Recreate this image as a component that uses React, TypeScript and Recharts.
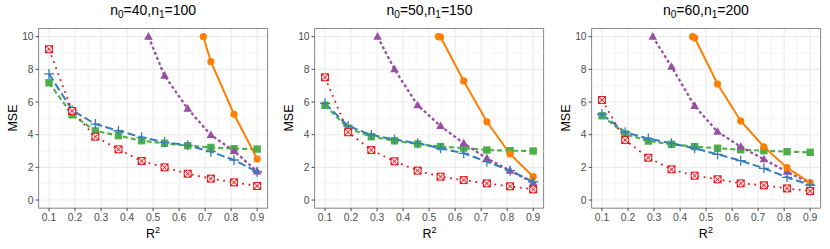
import React from "react";
import { LineChart, Line, XAxis, YAxis, CartesianGrid, ReferenceArea, ReferenceLine } from "recharts";

// R^2 grid shared by every panel (10 evenly spaced points)
const R2 = [0.1, 0.189, 0.278, 0.367, 0.456, 0.544, 0.633, 0.722, 0.811, 0.9];
const X_TICKS = [0.1, 0.2, 0.3, 0.4, 0.5, 0.6, 0.7, 0.8, 0.9];
const X_MINOR = [0.15, 0.25, 0.35, 0.45, 0.55, 0.65, 0.75, 0.85];
const Y_TICKS = [0, 2, 4, 6, 8, 10];
const Y_MINOR = [1, 3, 5, 7, 9];

const N0 = ["40", "50", "60"];
const N1 = ["100", "150", "200"];

// panel 1: n0=40, n1=100
const p1Red = [9.23, 5.45, 3.88, 3.1, 2.39, 2.0, 1.61, 1.31, 1.08, 0.86];
const p1Blue = [7.72, 5.5, 4.65, 4.24, 3.84, 3.53, 3.35, 2.96, 2.45, 1.73];
const p1Green = [7.18, 5.22, 4.23, 3.94, 3.63, 3.47, 3.33, 3.22, 3.14, 3.12];
const p1PurpleX = [0.482, 0.544, 0.633, 0.722, 0.811, 0.9];
const p1Purple = [10, 7.61, 5.59, 3.98, 3.0, 1.75];
const p1OrangeX = [0.693, 0.722, 0.811, 0.9];
const p1Orange = [10, 8.47, 5.25, 2.51];

// panel 2: n0=50, n1=150
const p2Red = [7.51, 4.15, 3.06, 2.37, 1.8, 1.43, 1.22, 1.02, 0.84, 0.65];
const p2Blue = [5.92, 4.53, 3.98, 3.71, 3.47, 3.17, 2.86, 2.35, 1.8, 1.12];
const p2Green = [5.8, 4.39, 3.88, 3.63, 3.43, 3.27, 3.18, 3.06, 3.02, 3.0];
const p2PurpleX = [0.302, 0.367, 0.456, 0.544, 0.633, 0.722, 0.811, 0.9];
const p2Purple = [10, 8.0, 5.8, 4.53, 3.47, 2.55, 1.8, 1.06];
const p2OrangeX = [0.536, 0.544, 0.633, 0.722, 0.811, 0.9];
const p2Orange = [10, 9.98, 7.29, 4.79, 2.82, 1.43];

// panel 3: n0=60, n1=200
const p3Red = [6.12, 3.67, 2.59, 1.88, 1.49, 1.27, 1.02, 0.9, 0.71, 0.55];
const p3Blue = [5.25, 4.15, 3.76, 3.47, 3.17, 2.8, 2.41, 1.94, 1.39, 0.92];
const p3Green = [5.16, 4.04, 3.61, 3.41, 3.27, 3.17, 3.08, 3.02, 2.96, 2.92];
const p3PurpleX = [0.295, 0.367, 0.456, 0.544, 0.633, 0.722, 0.811, 0.9];
const p3Purple = [10, 8.16, 5.76, 4.18, 3.26, 2.49, 1.73, 1.02];
const p3OrangeX = [0.448, 0.456, 0.544, 0.633, 0.722, 0.811, 0.9];
const p3Orange = [10, 9.93, 7.1, 4.84, 3.26, 1.98, 1.06];

const RED = "#E41A1C";
const BLUE = "#377EB8";
const GREEN = "#4DAF4A";
const PURPLE = "#984EA3";
const ORANGE = "#FF7F00";

const FONT = "'Liberation Sans', Arial, Helvetica, sans-serif";

const zip = (xs: number[], ys: number[]) => xs.map((x, i) => ({ x, y: ys[i] }));

const PANELS = [
  { red: p1Red, blue: p1Blue, green: p1Green, px: p1PurpleX, py: p1Purple, ox: p1OrangeX, oy: p1Orange },
  { red: p2Red, blue: p2Blue, green: p2Green, px: p2PurpleX, py: p2Purple, ox: p2OrangeX, oy: p2Orange },
  { red: p3Red, blue: p3Blue, green: p3Green, px: p3PurpleX, py: p3Purple, ox: p3OrangeX, oy: p3Orange },
];

// ggplot-ish point shapes
const redMark = (p: any) => {
  const { cx, cy, index } = p;
  if (cx == null || cy == null) return <g key={index} />;
  return (
    <g key={index}>
      <rect x={cx - 4} y={cy - 4} width={8} height={8} fill={RED} />
      <circle cx={cx} cy={cy} r={2.7} fill="#f6c9c9" stroke="#fff" strokeWidth={0.9} />
      <path d={`M${cx - 1.8} ${cy - 1.8}L${cx + 1.8} ${cy + 1.8}M${cx - 1.8} ${cy + 1.8}L${cx + 1.8} ${cy - 1.8}`} stroke={RED} strokeWidth={0.9} />
    </g>
  );
};
const plusMark = (p: any) => {
  const { cx, cy, index } = p;
  if (cx == null || cy == null) return <g key={index} />;
  return (
    <path key={index} d={`M${cx - 5} ${cy}H${cx + 5}M${cx} ${cy - 5}V${cy + 5}`} stroke={BLUE} strokeWidth={1.3} fill="none" />
  );
};
const squareMark = (p: any) => {
  const { cx, cy, index } = p;
  if (cx == null || cy == null) return <g key={index} />;
  return <rect key={index} x={cx - 3.7} y={cy - 3.7} width={7.4} height={7.4} fill={GREEN} />;
};
const triMark = (p: any) => {
  const { cx, cy, index } = p;
  if (cx == null || cy == null) return <g key={index} />;
  return <path key={index} d={`M${cx} ${cy - 4.6}L${cx + 4.3} ${cy + 3}L${cx - 4.3} ${cy + 3}Z`} fill={PURPLE} />;
};
const circleMark = (p: any) => {
  const { cx, cy, index } = p;
  if (cx == null || cy == null) return <g key={index} />;
  return <circle key={index} cx={cx} cy={cy} r={3.6} fill={ORANGE} />;
};

const PLOT_LEFT = 38.6;
const PLOT_W = 229;
const PANEL_W = 277;

function Panel({ idx }: { idx: number }) {
  const d = PANELS[idx];
  return (
    <div style={{ position: "absolute", left: idx * 276.4, top: 0, width: PANEL_W, height: 249 }}>
      <LineChart width={PANEL_W} height={249} margin={{ top: 28.5, right: PANEL_W - PLOT_LEFT - PLOT_W, bottom: 13, left: 0 }}>
        <CartesianGrid stroke="#EBEBEB" strokeWidth={1.1} />
        {X_MINOR.map((v) => (
          <ReferenceLine key={"vx" + v} x={v} stroke="#F0F0F0" strokeWidth={0.7} />
        ))}
        {Y_MINOR.map((v) => (
          <ReferenceLine key={"hy" + v} y={v} stroke="#F0F0F0" strokeWidth={0.7} />
        ))}
        <XAxis
          dataKey="x"
          type="number"
          domain={[0.06, 0.94]}
          ticks={X_TICKS}
          interval={0}
          allowDataOverflow
          height={27.8}
          axisLine={false}
          tickSize={3}
          tickMargin={2}
          tickLine={{ stroke: "#333", strokeWidth: 0.9 }}
          tickFormatter={(v: number) => v.toFixed(1)}
          tick={{ fill: "#4D4D4D", fontSize: 10.3, fontFamily: FONT }}
        />
        <YAxis
          type="number"
          domain={[-0.5, 10.5]}
          ticks={Y_TICKS}
          interval={0}
          allowDataOverflow
          width={PLOT_LEFT}
          axisLine={false}
          tickSize={3}
          tickMargin={2}
          tickLine={{ stroke: "#333", strokeWidth: 0.9 }}
          tick={{ fill: "#4D4D4D", fontSize: 10.3, fontFamily: FONT }}
        />
        <ReferenceArea x1={0.06} x2={0.94} y1={-0.5} y2={10.5} fill="none" stroke="#8a8a8a" strokeWidth={1} />
        <Line data={zip(R2, d.green)} dataKey="y" stroke={GREEN} strokeWidth={2.1} strokeDasharray="5 3" dot={squareMark} isAnimationActive={false} />
        <Line data={zip(d.px, d.py)} dataKey="y" stroke={PURPLE} strokeWidth={2.3} strokeDasharray="3 2.5" dot={triMark} isAnimationActive={false} />
        <Line data={zip(d.ox, d.oy)} dataKey="y" stroke={ORANGE} strokeWidth={2} dot={circleMark} isAnimationActive={false} />
        <Line data={zip(R2, d.blue)} dataKey="y" stroke={BLUE} strokeWidth={2} strokeDasharray="8 3.5" dot={plusMark} isAnimationActive={false} />
        <Line data={zip(R2, d.red)} dataKey="y" stroke={RED} strokeWidth={1.8} strokeDasharray="1.8 4.6" dot={redMark} isAnimationActive={false} />
      </LineChart>
      <div
        style={{
          position: "absolute", left: PLOT_LEFT, width: PLOT_W, top: 2, textAlign: "center",
          fontFamily: FONT, fontSize: 14, color: "#000", whiteSpace: "nowrap",
        }}
      >
        n<span style={{ fontSize: 10, verticalAlign: "-3px" }}>0</span>={N0[idx]},n
        <span style={{ fontSize: 10, verticalAlign: "-3px" }}>1</span>={N1[idx]}
      </div>
      <div
        style={{
          position: "absolute", left: PLOT_LEFT, width: PLOT_W, top: 225, textAlign: "center",
          fontFamily: FONT, fontSize: 12.5, color: "#000",
        }}
      >
        R<span style={{ fontSize: 9, verticalAlign: "5px" }}>2</span>
      </div>
      <div
        style={{
          position: "absolute", left: 13, top: 118.4, transform: "translate(-50%, -50%) rotate(-90deg)",
          fontFamily: FONT, fontSize: 12.5, color: "#000", whiteSpace: "nowrap",
        }}
      >
        MSE
      </div>
    </div>
  );
}

export default function App() {
  return (
    <div style={{ position: "absolute", left: 0, top: 0, width: 830, height: 249, background: "#fff", overflow: "hidden" }}>
      <Panel idx={0} />
      <Panel idx={1} />
      <Panel idx={2} />
    </div>
  );
}
